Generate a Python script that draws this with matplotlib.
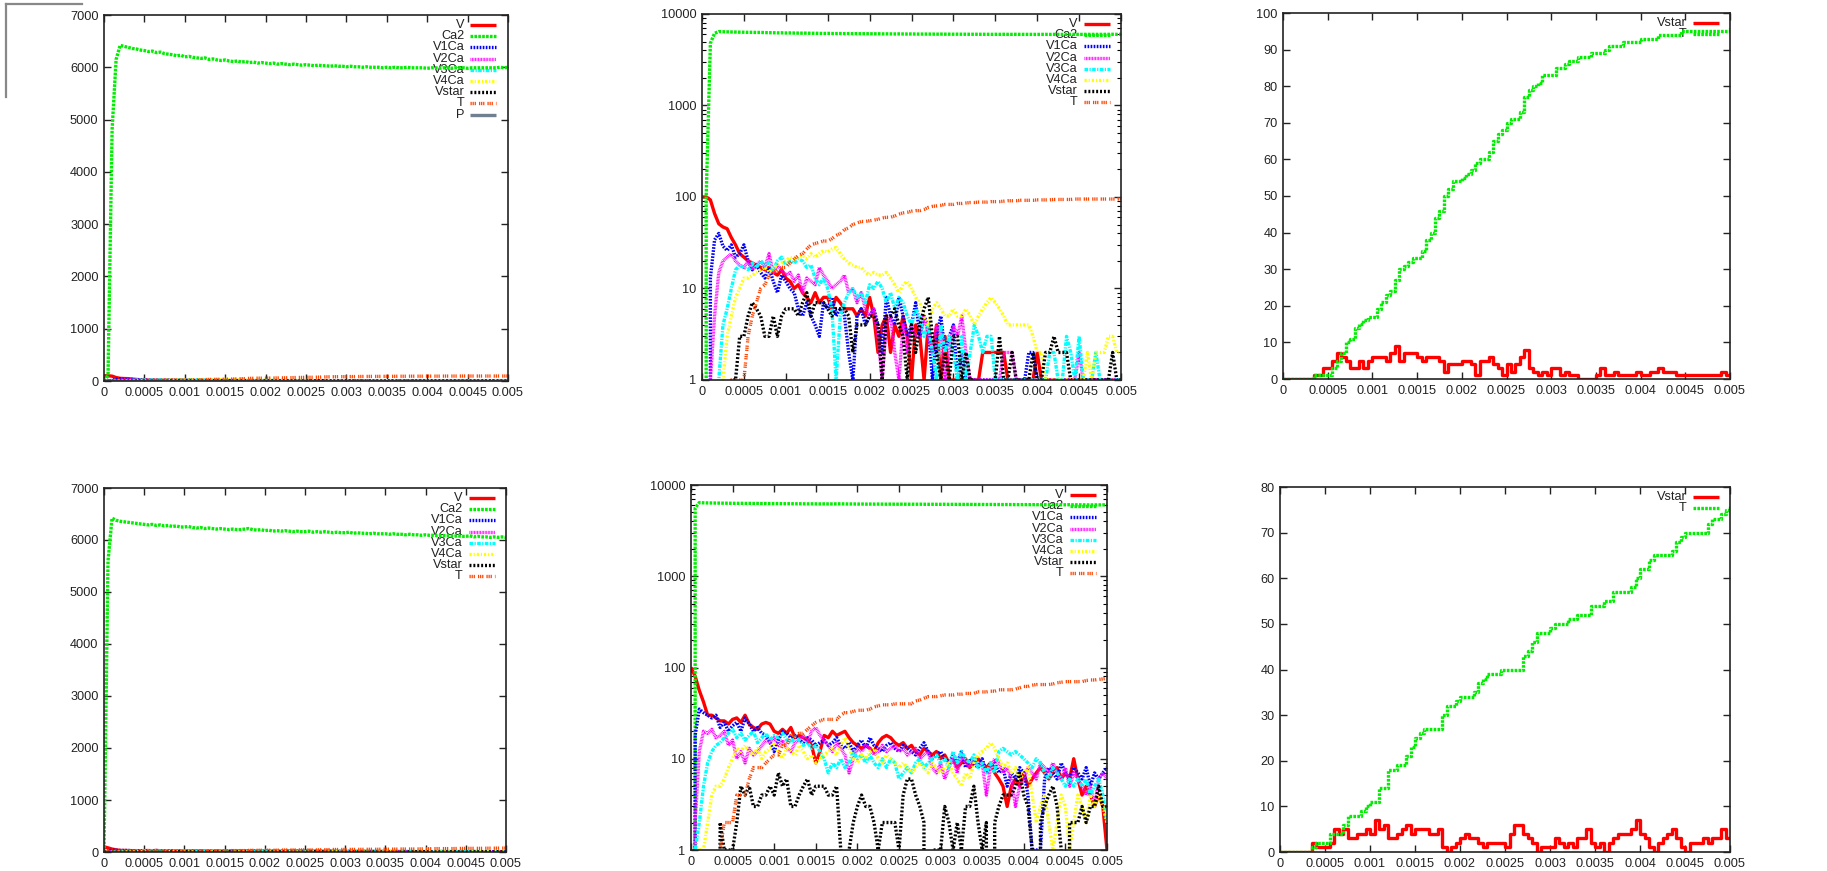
import numpy as np
import matplotlib
matplotlib.use('Agg')
import matplotlib.pyplot as plt
from matplotlib.lines import Line2D
from matplotlib.ticker import LogLocator, NullFormatter

plt.rcParams['font.family'] = ['Liberation Sans Narrow', 'Liberation Sans', 'DejaVu Sans']
plt.rcParams['lines.scale_dashes'] = False

FIG_W, FIG_H = 1827, 871
FS = 9.2

# time grid the values were read on (every 0.00005 s)
t = np.linspace(0, 0.005, 101)

xticks = [0, 0.0005, 0.001, 0.0015, 0.002, 0.0025, 0.003, 0.0035, 0.004, 0.0045, 0.005]
xtick_labels = ['0', '0.0005', '0.001', '0.0015', '0.002', '0.0025', '0.003',
                '0.0035', '0.004', '0.0045', '0.005']
lin_ticks = [0, 1000, 2000, 3000, 4000, 5000, 6000, 7000]
log_ticks = [1, 10, 100, 1000, 10000]
log_labels = ['1', '10', '100', '1000', '10000']

# ---- run 1 (top row) ----
run1_V = [100, 100, 93, 66, 51, 47, 45, 36, 30, 24,
          22, 20, 19, 18, 17, 16, 17, 15, 14, 16,
          13, 12, 10, 11, 9, 8, 7, 9, 7, 8,
          8, 6, 8, 7, 6, 6, 6, 5, 6, 5,
          8, 5, 2, 4, 5, 2, 4, 3, 5, 3,
          1, 4, 3, 1, 4, 2, 4, 1, 3, 1,
          1, 1, 1, 1, 1, 1, 1, 2, 2, 2,
          2, 2, 2, 1, 1, 1, 1, 1, 1, 1,
          2, 1, 1, 1, 1, 1, 1, 1, 1, 1,
          1, 1, 1, 1, 1, 1, 1, 1, 1, 1,
          1]
run1_Ca2 = [0, 100, 4800, 6150, 6420, 6400, 6380, 6360, 6350, 6330,
            6320, 6300, 6310, 6280, 6290, 6260, 6250, 6240, 6220, 6230,
            6200, 6210, 6190, 6180, 6170, 6180, 6150, 6160, 6140, 6130,
            6140, 6120, 6110, 6120, 6100, 6110, 6090, 6100, 6080, 6090,
            6080, 6070, 6080, 6060, 6070, 6060, 6050, 6060, 6050, 6040,
            6050, 6040, 6030, 6040, 6030, 6030, 6020, 6030, 6020, 6020,
            6010, 6020, 6010, 6010, 6000, 6010, 6000, 6000, 6000, 5990,
            6000, 5990, 6000, 5990, 5990, 6000, 5990, 5990, 5990, 5990,
            5980, 5990, 5990, 5980, 5990, 5990, 5980, 5990, 5990, 5990,
            5980, 5990, 5990, 5990, 5990, 5990, 5990, 5990, 6000, 5990,
            6000]
run1_V1Ca = [0, 0, 13, 34, 40, 29, 26, 30, 22, 24,
             30, 20, 16, 18, 15, 13, 17, 12, 9, 14,
             12, 10, 9, 6, 5, 7, 5, 4, 3, 7,
             6, 8, 5, 6, 5, 2, 1, 5, 6, 4,
             5, 6, 4, 2, 8, 5, 4, 8, 5, 3,
             4, 7, 3, 5, 4, 1, 3, 5, 2, 3,
             4, 1, 2, 1, 1, 1, 1, 1, 1, 1,
             1, 1, 1, 1, 1, 1, 1, 1, 2, 2,
             1, 1, 1, 1, 1, 1, 1, 1, 1, 1,
             1, 1, 1, 1, 1, 1, 1, 1, 1, 1,
             1]
run1_V2Ca = [0, 0, 1, 5, 15, 20, 22, 24, 20, 18,
             17, 20, 16, 18, 20, 17, 24, 15, 18, 16,
             14, 15, 12, 14, 9, 13, 12, 11, 17, 14,
             12, 10, 11, 12, 14, 9, 10, 7, 9, 6,
             5, 6, 3, 1, 4, 5, 2, 1, 4, 2,
             4, 3, 3, 5, 3, 2, 4, 3, 1, 2,
             4, 3, 5, 2, 1, 1, 1, 1, 1, 1,
             1, 1, 2, 2, 2, 1, 1, 1, 1, 1,
             1, 1, 1, 1, 1, 1, 1, 1, 1, 1,
             2, 1, 1, 1, 1, 1, 1, 1, 1, 1,
             1]
run1_V3Ca = [0, 0, 0, 0, 1, 4, 6, 10, 16, 18,
             17, 16, 19, 17, 20, 18, 19, 16, 20, 22,
             18, 20, 19, 21, 20, 17, 18, 13, 11, 13,
             10, 6, 1, 5, 7, 9, 10, 8, 9, 7,
             11, 10, 12, 10, 7, 9, 6, 8, 7, 5,
             4, 6, 5, 3, 4, 2, 1, 4, 2, 3,
             2, 1, 3, 1, 2, 4, 3, 2, 3, 3,
             1, 1, 1, 1, 1, 1, 1, 1, 1, 1,
             1, 1, 1, 2, 2, 1, 1, 3, 2, 1,
             3, 1, 1, 1, 2, 1, 1, 1, 1, 1,
             1]
run1_V4Ca = [0, 0, 0, 0, 0, 1, 3, 5, 8, 10,
             13, 13, 14, 15, 16, 17, 15, 17, 18, 19,
             20, 22, 21, 22, 23, 21, 24, 22, 24, 26,
             25, 27, 28, 24, 21, 19, 18, 17, 17, 15,
             14, 15, 14, 14, 15, 13, 11, 9, 11, 12,
             10, 8, 7, 5, 4, 6, 7, 6, 5, 5,
             6, 5, 5, 6, 5, 4, 5, 6, 7, 8,
             7, 6, 5, 4, 4, 4, 4, 4, 4, 3,
             2, 2, 1, 1, 1, 1, 1, 1, 1, 1,
             1, 1, 2, 1, 2, 2, 2, 3, 3, 2,
             2]
run1_Vstar = [0, 0, 0, 0, 0, 0, 0, 1, 1, 3,
              3, 5, 7, 6, 5, 3, 3, 5, 3, 5,
              6, 6, 6, 5, 7, 9, 5, 7, 7, 7,
              6, 5, 6, 6, 6, 5, 2, 4, 4, 4,
              5, 5, 4, 1, 5, 5, 6, 4, 3, 1,
              4, 2, 4, 6, 8, 3, 2, 1, 2, 1,
              3, 3, 1, 2, 1, 1, 0, 0, 0, 0,
              1, 3, 1, 1, 2, 1, 1, 1, 1, 2,
              1, 1, 2, 2, 3, 2, 2, 2, 1, 1,
              1, 1, 1, 1, 1, 1, 1, 1, 2, 1,
              1]
run1_T = [0, 0, 0, 0, 0, 0, 0, 1, 1, 1,
          1, 3, 5, 7, 10, 11, 14, 15, 16, 17,
          17, 19, 21, 23, 24, 27, 30, 31, 32, 33,
          33, 35, 38, 40, 44, 46, 50, 52, 54, 54,
          55, 56, 57, 59, 60, 60, 62, 65, 67, 68,
          70, 71, 71, 73, 77, 79, 80, 81, 83, 83,
          83, 85, 85, 86, 87, 87, 88, 88, 88, 89,
          89, 89, 90, 91, 91, 91, 92, 92, 92, 92,
          93, 93, 93, 93, 94, 94, 94, 94, 94, 95,
          95, 95, 95, 95, 95, 95, 95, 95, 95, 95,
          96]
run1_P = [0] * 101

# ---- run 2 (bottom row) ----
run2_V = [100, 80, 56, 42, 30, 30, 28, 26, 26, 24,
          27, 28, 25, 30, 24, 22, 21, 24, 25, 24,
          20, 19, 21, 19, 22, 17, 18, 17, 16, 14,
          9, 12, 18, 17, 20, 18, 19, 20, 17, 15,
          14, 13, 14, 13, 12, 15, 17, 18, 17, 15,
          14, 15, 13, 14, 12, 11, 13, 12, 11, 12,
          10, 11, 9, 10, 8, 9, 10, 8, 9, 10,
          9, 8, 9, 7, 6, 5, 3, 5, 6, 5,
          7, 5, 6, 7, 8, 7, 6, 7, 8, 6,
          7, 6, 10, 6, 4, 5, 4, 3, 4, 3,
          1]
run2_Ca2 = [0, 5600, 6420, 6380, 6360, 6350, 6340, 6330, 6320, 6310,
            6300, 6290, 6300, 6280, 6290, 6270, 6280, 6260, 6270, 6250,
            6250, 6260, 6240, 6230, 6240, 6220, 6230, 6220, 6210, 6220,
            6210, 6200, 6210, 6200, 6200, 6210, 6220, 6200, 6190, 6200,
            6180, 6190, 6170, 6180, 6170, 6180, 6170, 6160, 6170, 6160,
            6160, 6170, 6150, 6160, 6150, 6160, 6150, 6140, 6150, 6140,
            6140, 6150, 6130, 6140, 6130, 6130, 6120, 6130, 6120, 6120,
            6120, 6110, 6120, 6110, 6110, 6100, 6110, 6100, 6100, 6090,
            6100, 6090, 6090, 6080, 6090, 6080, 6080, 6070, 6080, 6070,
            6070, 6080, 6060, 6070, 6060, 6060, 6050, 6060, 6050, 6060,
            6050]
run2_V1Ca = [0, 18, 35, 32, 30, 28, 30, 22, 25, 20,
             23, 25, 20, 28, 24, 20, 22, 19, 18, 15,
             12, 16, 20, 19, 17, 18, 16, 15, 17, 16,
             14, 15, 16, 14, 15, 17, 14, 13, 15, 12,
             14, 16, 13, 17, 14, 13, 12, 14, 15, 13,
             12, 14, 13, 12, 11, 13, 15, 12, 10, 11,
             12, 10, 9, 11, 9, 12, 8, 10, 9, 8,
             10, 7, 8, 9, 7, 8, 5, 7, 6, 8,
             7, 4, 1, 1, 1, 6, 8, 7, 6, 9,
             7, 6, 8, 7, 6, 8, 5, 7, 6, 7,
             8]
run2_V2Ca = [0, 2, 12, 20, 19, 21, 17, 18, 20, 14,
             16, 10, 12, 9, 13, 11, 12, 14, 16, 15,
             17, 14, 16, 13, 12, 15, 16, 18, 15, 20,
             22, 18, 16, 14, 12, 15, 13, 11, 7, 10,
             13, 12, 14, 13, 11, 12, 14, 12, 13, 14,
             12, 13, 11, 12, 13, 10, 11, 12, 8, 7,
             9, 6, 8, 10, 7, 11, 9, 8, 10, 8,
             9, 4, 8, 10, 9, 7, 8, 6, 3, 5,
             6, 8, 7, 6, 9, 8, 7, 9, 7, 6,
             8, 5, 7, 6, 5, 4, 5, 3, 6, 7,
             6]
run2_V3Ca = [0, 1, 2, 5, 9, 12, 14, 15, 17, 19,
             21, 17, 19, 16, 18, 20, 15, 17, 19, 16,
             18, 17, 19, 16, 15, 17, 16, 14, 15, 13,
             14, 12, 10, 7, 9, 8, 10, 8, 9, 12,
             10, 11, 9, 11, 9, 8, 10, 8, 10, 9,
             6, 7, 8, 7, 9, 10, 8, 9, 10, 11,
             9, 10, 8, 12, 9, 12, 10, 9, 11, 8,
             9, 7, 9, 7, 12, 13, 12, 11, 12, 11,
             10, 9, 8, 10, 9, 7, 6, 8, 7, 6,
             5, 6, 5, 6, 5, 6, 4, 5, 6, 4,
             2]
run2_V4Ca = [0, 0, 1, 1, 2, 4, 5, 5, 6, 8,
             10, 13, 12, 14, 12, 11, 13, 10, 12, 13,
             15, 12, 10, 13, 12, 11, 14, 12, 10, 11,
             9, 10, 11, 12, 13, 11, 14, 17, 13, 10,
             9, 11, 10, 12, 13, 10, 9, 11, 10, 9,
             8, 9, 8, 7, 8, 9, 8, 7, 9, 8,
             7, 8, 9, 7, 6, 5, 7, 6, 9, 11,
             12, 13, 15, 13, 10, 8, 9, 7, 8, 6,
             7, 8, 4, 2, 3, 4, 2, 1, 2, 4,
             3, 1, 2, 4, 3, 2, 4, 3, 4, 3,
             2]
run2_Vstar = [0, 0, 0, 0, 0, 0, 0, 2, 1, 1,
              1, 2, 5, 4, 5, 3, 3, 4, 4, 5,
              4, 7, 5, 6, 3, 3, 4, 5, 6, 4,
              5, 5, 5, 4, 4, 5, 1, 0, 1, 2,
              3, 4, 3, 3, 2, 1, 2, 2, 2, 2,
              1, 4, 6, 6, 4, 3, 2, 0, 1, 1,
              1, 3, 2, 1, 2, 1, 3, 3, 5, 2,
              1, 2, 0, 2, 3, 4, 4, 4, 5, 7,
              4, 3, 1, 0, 2, 3, 4, 5, 3, 1,
              0, 2, 2, 2, 3, 2, 3, 3, 5, 3,
              3]
run2_T = [0, 0, 0, 0, 0, 0, 0, 1, 2, 2,
          2, 4, 4, 4, 6, 8, 8, 8, 9, 10,
          11, 11, 14, 14, 18, 18, 19, 19, 21, 23,
          25, 26, 27, 27, 27, 27, 30, 32, 32, 33,
          34, 34, 34, 35, 37, 38, 39, 39, 39, 40,
          40, 40, 40, 40, 43, 44, 46, 48, 48, 48,
          49, 50, 50, 50, 51, 51, 52, 52, 52, 54,
          54, 54, 55, 55, 57, 57, 57, 57, 58, 60,
          62, 62, 64, 65, 65, 65, 65, 66, 68, 69,
          70, 70, 70, 70, 70, 72, 73, 73, 74, 75,
          76]

# gnuplot-like line types
STYLE = {
    'V':     dict(color='#ff0000', dashes=None),
    'Ca2':   dict(color='#00ee00', dashes=(1.9, 0.9)),
    'V1Ca':  dict(color='#0000ff', dashes=(1.2, 1.0)),
    'V2Ca':  dict(color='#ff00ff', dashes=(0.6, 0.5)),
    'V3Ca':  dict(color='#00ffff', dashes=(2.6, 1.0, 0.9, 1.0)),
    'V4Ca':  dict(color='#ffff00', dashes=(1.6, 1.4, 0.8, 1.4)),
    'Vstar': dict(color='#000000', dashes=(1.4, 1.4)),
    'T':     dict(color='#ff4500', dashes=(0.9, 0.6, 0.9, 0.6, 0.9, 2.2)),
    'P':     dict(color='#708090', dashes=None),
}
LW = 2.4


def line(ax, x, y, name, color=None, dashes='style', **kw):
    st = STYLE[name]
    c = color if color is not None else st['color']
    d = st['dashes'] if dashes == 'style' else dashes
    ln, = ax.plot(x, y, color=c, lw=LW, solid_capstyle='butt', **kw)
    if d is not None:
        ln.set_dashes(d)
    return ln


def draw_key(ax, entries):
    box = ax.get_position()
    w = box.width * FIG_W
    h = box.height * FIG_H
    x1 = 1 - 11.5 / w
    x0 = x1 - 26 / w
    xt = x0 - 6 / w
    for i, (name, color, dashes) in enumerate(entries):
        y = 1 - (10 + 11.2 * i) / h
        ln, = ax.plot([x0, x1], [y, y], transform=ax.transAxes, color=color,
                      lw=LW, zorder=1, solid_capstyle='butt')
        if dashes is not None:
            ln.set_dashes(dashes)
        ax.text(xt, y, name, transform=ax.transAxes, ha='right', va='center',
                fontsize=FS, color='#222222', zorder=1)


def setup(ax, log=False):
    for sp in ax.spines.values():
        sp.set_linewidth(1.2)
        sp.set_color('#222222')
    ax.set_xlim(0, 0.005)
    ax.set_xticks(xticks, xtick_labels)
    ax.tick_params(direction='in', top=True, right=True, length=5, width=1,
                   labelsize=FS, pad=4, colors='#222222')
    if log:
        ax.set_yscale('log')
        ax.set_ylim(1, 10000)
        ax.set_yticks(log_ticks, log_labels)
        ax.yaxis.set_minor_locator(LogLocator(base=10, subs=range(2, 10)))
        ax.yaxis.set_minor_formatter(NullFormatter())
        ax.tick_params(which='minor', direction='in', right=True, length=3, width=0.8)


def px_axes(fig, left, top, right, bottom):
    return fig.add_axes([left / FIG_W, 1 - bottom / FIG_H,
                         (right - left) / FIG_W, (bottom - top) / FIG_H])


fig = plt.figure(figsize=(FIG_W / 100, FIG_H / 100), dpi=100)

species = ['V', 'Ca2', 'V1Ca', 'V2Ca', 'V3Ca', 'V4Ca', 'Vstar', 'T']
run1 = dict(V=run1_V, Ca2=run1_Ca2, V1Ca=run1_V1Ca, V2Ca=run1_V2Ca, V3Ca=run1_V3Ca,
            V4Ca=run1_V4Ca, Vstar=run1_Vstar, T=run1_T, P=run1_P)
run2 = dict(V=run2_V, Ca2=run2_Ca2, V1Ca=run2_V1Ca, V2Ca=run2_V2Ca, V3Ca=run2_V3Ca,
            V4Ca=run2_V4Ca, Vstar=run2_Vstar, T=run2_T)

boxes = [
    # linear, log, Vstar/T   (left, top, right, bottom in pixels)
    [(104, 15, 508, 381), (702, 14, 1121, 380), (1283, 13, 1730, 379)],
    [(104, 488, 506, 852), (691, 485, 1107, 850), (1280, 487, 1730, 852)],
]
tmax = [100, 80]

for row, run in enumerate([run1, run2]):
    names_lin = species + (['P'] if 'P' in run else [])

    # linear panel
    ax = px_axes(fig, *boxes[row][0])
    setup(ax)
    ax.set_ylim(0, 7000)
    ax.set_yticks(lin_ticks)
    draw_key(ax, [(n, STYLE[n]['color'], STYLE[n]['dashes']) for n in names_lin])
    for n in names_lin:
        line(ax, t, run[n], n, zorder=2)

    # log panel
    ax = px_axes(fig, *boxes[row][1])
    setup(ax, log=True)
    draw_key(ax, [(n, STYLE[n]['color'], STYLE[n]['dashes']) for n in species])
    for n in species:
        line(ax, t, run[n], n, zorder=2)

    # Vstar and T counts
    ax = px_axes(fig, *boxes[row][2])
    setup(ax)
    ax.set_ylim(0, tmax[row])
    ax.set_yticks(np.arange(0, tmax[row] + 1, 10))
    draw_key(ax, [('Vstar', '#ff0000', None), ('T', '#00ee00', STYLE['Ca2']['dashes'])])
    line(ax, t, run['Vstar'], 'Vstar', color='#ff0000', dashes=None,
         drawstyle='steps-post', zorder=2)
    line(ax, t, run['T'], 'T', color='#00ee00', dashes=STYLE['Ca2']['dashes'],
         drawstyle='steps-post', zorder=2)

# grey bracket in the top-left corner
fig.add_artist(Line2D([6 / FIG_W, 82 / FIG_W], [1 - 4 / FIG_H, 1 - 4 / FIG_H],
                      color='#888888', lw=1.6))
fig.add_artist(Line2D([6 / FIG_W, 6 / FIG_W], [1 - 4 / FIG_H, 1 - 97 / FIG_H],
                      color='#888888', lw=1.6))

fig.savefig('out.png', dpi=100)
